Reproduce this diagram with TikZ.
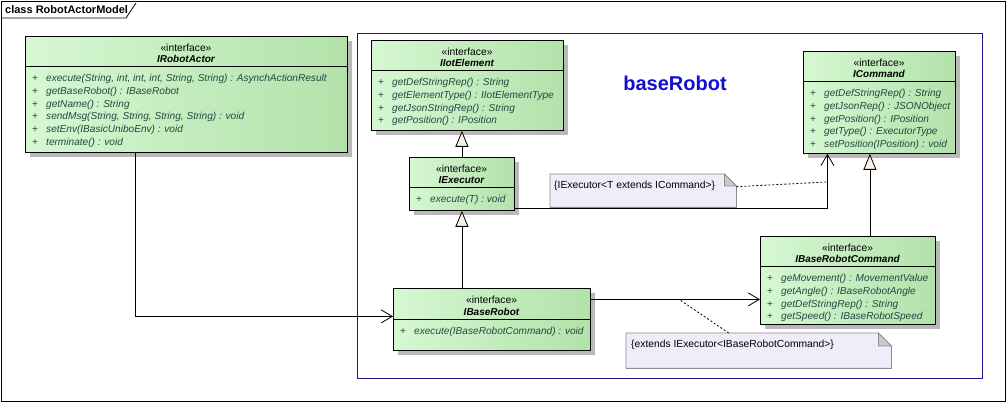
\documentclass[tikz,border=0pt]{standalone}
\usepackage{fontspec}
\setmainfont{Liberation Sans}
\usetikzlibrary{arrows.meta}

\definecolor{ClsLeft}{HTML}{D6F7D2}
\definecolor{ClsRight}{HTML}{B2E2AA}
\definecolor{OpText}{HTML}{1F4A40}
\definecolor{NoteFill}{HTML}{EFEDFA}
\definecolor{NoteFold}{HTML}{C9C9CE}
\definecolor{NoteBorder}{HTML}{8C8C8C}
\definecolor{TriFill}{HTML}{FAF0E4}
\definecolor{PkgBlue}{HTML}{1A1A8C}
\definecolor{TitleBlue}{HTML}{1010D0}
\definecolor{ShadowGray}{HTML}{B9B9B9}

\newcommand{\opplus}{\makebox[14pt][l]{\upshape +}}

\begin{document}
\begin{tikzpicture}[x=1pt, y=-1pt,
  every node/.style={inner sep=0pt, font=\fontsize{10.3}{12.8}\selectfont},
  cls/.style={draw=black, line width=0.8pt, left color=ClsLeft, right color=ClsRight, anchor=north west},
  shadowbox/.style={fill=ShadowGray},
  cname/.style={font=\fontsize{10}{12}\selectfont\bfseries\itshape},
  ops/.style={anchor=north west, align=left, text=OpText, font=\fontsize{10.1}{12.8}\selectfont\itshape},
  notebox/.style={anchor=north west},
  notetext/.style={anchor=west},
  assoc/.style={-{Straight Barb[length=11pt,width=13pt]}, line width=0.8pt},
  gen/.style={-{Triangle[length=16pt,width=13pt,fill=TriFill]}, line width=0.8pt},
  noteline/.style={dash pattern=on 2pt off 2pt, line width=0.8pt}]

 % Background and frame
 \fill[white] (0,0) rectangle (1007,403);
 \useasboundingbox (0,0) rectangle (1007,403);
 \draw[line width=0.8pt] (1,1) rectangle (1005,401);
 \draw[line width=0.8pt] (1,18) -- (126,18) -- (136,3);
 \node[anchor=west, font=\fontsize{11}{13}\selectfont\bfseries] (frametitle) at (5,10) {class RobotActorModel};

 % Package baseRobot
 \draw[PkgBlue, line width=1pt] (357,34) rectangle (982,378);
 \node[font=\fontsize{20}{24}\selectfont\bfseries, text=TitleBlue] (pkgname) at (675,83) {baseRobot};

 % IRobotActor
 \fill[shadowbox] (30,41) rectangle (352,157);
 \node[cls, minimum width=322pt, minimum height=116pt] (robotactor) at (25,36) {};
 \node (robotactorst) at (186,47.5) {«interface»};
 \node[cname] (robotactorname) at (186,59) {IRobotActor};
 \draw[line width=0.8pt] (25,66) -- (347,66);
 \node[ops] (robotactorops) at (32,74) {\opplus execute(String, int, int, int, String, String) : AsynchActionResult\\
  \opplus getBaseRobot() : IBaseRobot\\
  \opplus getName() : String\\
  \opplus sendMsg(String, String, String, String) : void\\
  \opplus setEnv(IBasicUniboEnv) : void\\
  \opplus terminate() : void};

 % IIotElement
 \fill[shadowbox] (376,45) rectangle (568,135);
 \node[cls, minimum width=192pt, minimum height=90pt] (iotelement) at (371,40) {};
 \node (iotelementst) at (467,51.5) {«interface»};
 \node[cname] (iotelementname) at (467,63) {IIotElement};
 \draw[line width=0.8pt] (371,70) -- (563,70);
 \node[ops] (iotelementops) at (378,78) {\opplus getDefStringRep() : String\\
  \opplus getElementType() : IIotElementType\\
  \opplus getJsonStringRep() : String\\
  \opplus getPosition() : IPosition};

 % ICommand
 \fill[shadowbox] (808,56) rectangle (960,158);
 \node[cls, minimum width=152pt, minimum height=102pt] (command) at (803,51) {};
 \node (commandst) at (879,62.5) {«interface»};
 \node[cname] (commandname) at (879,74) {ICommand};
 \draw[line width=0.8pt] (803,81) -- (955,81);
 \node[ops] (commandops) at (810,89) {\opplus getDefStringRep() : String\\
  \opplus getJsonRep() : JSONObject\\
  \opplus getPosition() : IPosition\\
  \opplus getType() : ExecutorType\\
  \opplus setPosition(IPosition) : void};

 % IExecutor
 \fill[shadowbox] (414,162) rectangle (519,215);
 \node[cls, minimum width=105pt, minimum height=53pt] (executor) at (409,157) {};
 \node (executorst) at (461.5,168.5) {«interface»};
 \node[cname] (executorname) at (461.5,180) {IExecutor};
 \draw[line width=0.8pt] (409,187) -- (514,187);
 \node[ops] (executorops) at (416,195) {\opplus execute(T) : void};

 % IBaseRobot
 \fill[shadowbox] (398,293) rectangle (595,355);
 \node[cls, minimum width=197pt, minimum height=62pt] (baserobot) at (393,288) {};
 \node (baserobotst) at (491.5,300) {«interface»};
 \node[cname] (baserobotname) at (491.5,311.5) {IBaseRobot};
 \draw[line width=0.8pt] (393,319) -- (590,319);
 \node[ops] (baserobotops) at (400,327) {\opplus execute(IBaseRobotCommand) : void};

 % IBaseRobotCommand
 \fill[shadowbox] (765,241) rectangle (940,329);
 \node[cls, minimum width=175pt, minimum height=88pt] (brcommand) at (760,236) {};
 \node (brcommandst) at (847.5,247.5) {«interface»};
 \node[cname] (brcommandname) at (847.5,259) {IBaseRobotCommand};
 \draw[line width=0.8pt] (760,266) -- (935,266);
 \node[ops] (brcommandops) at (767,274) {\opplus geMovement() : MovementValue\\
  \opplus getAngle() : IBaseRobotAngle\\
  \opplus getDefStringRep() : String\\
  \opplus getSpeed() : IBaseRobotSpeed};

 % Notes
 \node[notebox, minimum width=186pt, minimum height=33pt] (execnote) at (550,174) {};
 \filldraw[draw=NoteBorder, fill=NoteFill, line width=0.8pt] (execnote.north west) -- ([xshift=-12pt]execnote.north east) -- ([yshift=-12pt]execnote.north east) -- (execnote.south east) -- (execnote.south west) -- cycle;
 \filldraw[draw=NoteBorder, fill=NoteFold, line width=0.8pt] ([xshift=-12pt]execnote.north east) -- ([xshift=-12pt,yshift=-12pt]execnote.north east) -- ([yshift=-12pt]execnote.north east) -- cycle;
 \node[notetext] (execnotetext) at (554,186) {\{IExecutor<T extends ICommand>\}};

 \node[notebox, minimum width=265pt, minimum height=35pt] (robotnote) at (626,333) {};
 \filldraw[draw=NoteBorder, fill=NoteFill, line width=0.8pt] (robotnote.north west) -- ([xshift=-13pt]robotnote.north east) -- ([yshift=-13pt]robotnote.north east) -- (robotnote.south east) -- (robotnote.south west) -- cycle;
 \filldraw[draw=NoteBorder, fill=NoteFold, line width=0.8pt] ([xshift=-13pt]robotnote.north east) -- ([xshift=-13pt,yshift=-13pt]robotnote.north east) -- ([yshift=-13pt]robotnote.north east) -- cycle;
 \node[notetext] (robotnotetext) at (631,345) {\{extends IExecutor<IBaseRobotCommand>\}};

 % Connectors
 \draw[assoc] ([xshift=-51pt]robotactor.south) |- ([yshift=3pt]baserobot.west);
 \draw[gen] (baserobot.north -| executor.south) -- (executor.south);
 \draw[gen] (executor.north) -- (executor.north |- iotelement.south);
 \draw[assoc] ([yshift=-25pt]executor.east) -| ([xshift=-52pt]command.south);
 \draw[gen] ([xshift=22pt]brcommand.north) -- ([xshift=22pt]brcommand.north |- command.south);
 \draw[assoc] ([yshift=20pt]baserobot.east) -- ([yshift=20pt]baserobot.east -| brcommand.west);

 % Note links
 \coordinate (execnoteend) at (826,182);
 \coordinate (robotnoteend) at (680,300);
 \draw[noteline] ([yshift=4pt]execnote.east) -- (execnoteend);
 \draw[noteline] ([xshift=-30pt]robotnote.north) -- (robotnoteend);

\end{tikzpicture}
\end{document}
